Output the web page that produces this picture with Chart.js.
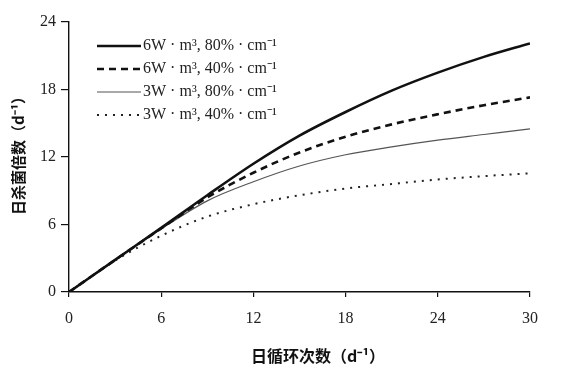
<!DOCTYPE html>
<html>
<head>
<meta charset="utf-8">
<script src="https://cdn.jsdelivr.net/npm/chart.js@4.4.1/dist/chart.umd.min.js"></script>
<style>
  html, body { margin: 0; padding: 0; background: #fff; }
  #wrap { width: 567px; height: 391px; }
</style>
</head>
<body>
<div id="wrap"><canvas id="c" width="567" height="391"></canvas></div>
<script>
// ---- data ----
const cycles = [0, 3, 6, 9, 12, 15, 18, 21, 24, 27, 30];
const s6w80 = [0, 2.85, 5.7, 8.6, 11.4, 13.9, 16.0, 17.9, 19.5, 20.9, 22.1];
const s6w40 = [0, 2.85, 5.65, 8.4, 10.6, 12.4, 13.8, 14.9, 15.8, 16.6, 17.3];
const s3w80 = [0, 2.85, 5.6, 8.1, 9.8, 11.2, 12.2, 12.9, 13.5, 14.0, 14.5];
const s3w40 = [0, 2.8, 5.0, 6.7, 7.8, 8.6, 9.2, 9.6, 10.0, 10.3, 10.55];
const seriesLabels = [
  '6W · m³, 80% · cm⁻¹',
  '6W · m³, 40% · cm⁻¹',
  '3W · m³, 80% · cm⁻¹',
  '3W · m³, 40% · cm⁻¹'
];
const xTicks = [0, 6, 12, 18, 24, 30];
const yTicks = [0, 6, 12, 18, 24];
const xTitle = '日循环次数（d⁻¹）';
const yTitle = '日杀菌倍数（d⁻¹）';

const toPts = arr => cycles.map((c, i) => ({ x: c, y: arr[i] }));

const styles = [
  { color: '#111', width: 2.6, dash: [] },
  { color: '#111', width: 2.6, dash: [7, 5] },
  { color: '#555', width: 1.2, dash: [] },
  { color: '#222', width: 2, dash: [2, 6] }
];
const seriesData = [s6w80, s6w40, s3w80, s3w40];

const datasets = seriesData.map((arr, i) => ({
  label: seriesLabels[i],
  data: toPts(arr),
  borderColor: styles[i].color,
  borderWidth: styles[i].width,
  borderDash: styles[i].dash,
  pointRadius: 0,
  fill: false,
  cubicInterpolationMode: 'monotone'
}));

const customDraw = {
  id: 'customDraw',
  afterDraw(chart) {
    const ctx = chart.ctx;
    const ca = chart.chartArea;
    ctx.save();
    // legend
    const x0 = 97, x1 = 141;
    const rows = [46, 69, 92, 115];
    chart.data.datasets.forEach((ds, i) => {
      const y = rows[i];
      ctx.beginPath();
      ctx.setLineDash(ds.borderDash || []);
      ctx.strokeStyle = ds.borderColor;
      ctx.lineWidth = ds.borderWidth;
      ctx.moveTo(x0, y);
      ctx.lineTo(x1, y);
      ctx.stroke();
      ctx.setLineDash([]);
      ctx.fillStyle = '#222';
      ctx.font = '16px "Liberation Serif"';
      ctx.textBaseline = 'middle';
      ctx.textAlign = 'left';
      ctx.fillText(ds.label, 143, y);
    });
    // axis titles
    ctx.fillStyle = '#111';
    ctx.font = 'bold 16px "Noto Sans CJK SC"';
    ctx.textAlign = 'center';
    ctx.textBaseline = 'middle';
    ctx.fillText(xTitle, 318, 356);
    ctx.translate(18, 152);
    ctx.rotate(-Math.PI / 2);
    ctx.font = 'bold 15px "Noto Sans CJK SC"';
    ctx.fillText(yTitle, 0, 0);
    ctx.restore();
  }
};

new Chart(document.getElementById('c'), {
  type: 'line',
  data: { datasets },
  options: {
    responsive: false,
    animation: false,
    layout: { padding: { left: 0, top: 22, right: 37, bottom: 0 } },
    plugins: { legend: { display: false }, tooltip: { enabled: false } },
    scales: {
      x: {
        type: 'linear',
        min: 0, max: 30,
        afterFit(s) { s.height = 99; },
        afterBuildTicks(s) { s.ticks = xTicks.map(v => ({ value: v })); },
        grid: { drawOnChartArea: false, drawTicks: true, tickLength: 5, color: '#111', lineWidth: 1.2 },
        border: { color: '#111', width: 1.4 },
        ticks: { color: '#222', font: { family: 'Liberation Serif', size: 16 }, padding: 12, maxRotation: 0 }
      },
      y: {
        type: 'linear',
        min: 0, max: 24,
        afterFit(s) { s.width = 69; },
        afterBuildTicks(s) { s.ticks = yTicks.map(v => ({ value: v })); },
        grid: { drawOnChartArea: false, drawTicks: true, tickLength: 8, color: '#111', lineWidth: 1.2 },
        border: { color: '#111', width: 1.4 },
        ticks: { color: '#222', font: { family: 'Liberation Serif', size: 16 }, padding: 5 }
      }
    }
  },
  plugins: [customDraw]
});
</script>
</body>
</html>
